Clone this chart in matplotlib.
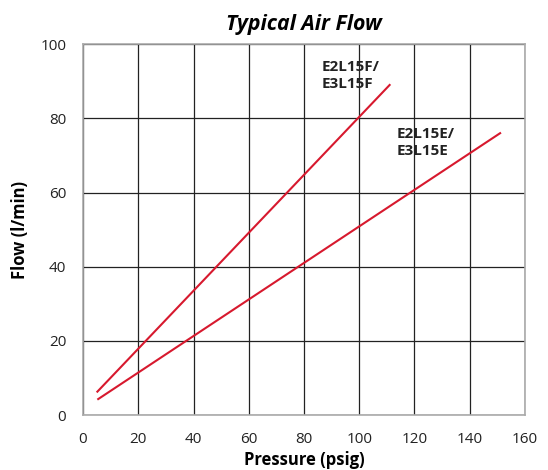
import matplotlib.pyplot as plt

plt.rcParams['font.family'] = ['Open Sans', 'DejaVu Sans']

# data
pressure_f = [5.2, 111]
flow_f = [6.3, 89]
pressure_e = [5.5, 151]
flow_e = [4.3, 76]

label_f = 'E2L15F/\nE3L15F'
label_e = 'E2L15E/\nE3L15E'

fig = plt.figure(figsize=(5.48, 4.70), dpi=100)
ax = fig.add_axes([0.1515, 0.117, 0.8065, 0.789])

red = '#d7192e'
ax.plot(pressure_f, flow_f, color=red, lw=1.5, zorder=3)
ax.plot(pressure_e, flow_e, color=red, lw=1.5, zorder=3)

ax.text(86.5, 95.7, label_f, fontsize=11, fontweight='bold', color='#222222',
        va='top', ha='left', linespacing=1.25)
ax.text(113.5, 77.7, label_e, fontsize=11, fontweight='bold', color='#222222',
        va='top', ha='left', linespacing=1.25)

ax.set_xlim(0, 160)
ax.set_ylim(0, 100)
ax.set_xticks(range(0, 161, 20))
ax.set_yticks(range(0, 101, 20))
ax.grid(True, color='#222222', lw=0.9)
ax.set_axisbelow(True)
for s in ax.spines.values():
    s.set_color('#aaaaaa')
    s.set_linewidth(1.2)
ax.tick_params(length=0, labelsize=11, colors='#222222', pad=12)

ax.set_xlabel('Pressure (psig)', fontsize=12, fontweight='bold', labelpad=3)
ax.set_ylabel('Flow (l/min)', fontsize=12, fontweight='bold', labelpad=8)
ax.set_title('Typical Air Flow', fontsize=15.3, fontweight='bold', style='italic', pad=10)

fig.savefig('out.png', dpi=100)
